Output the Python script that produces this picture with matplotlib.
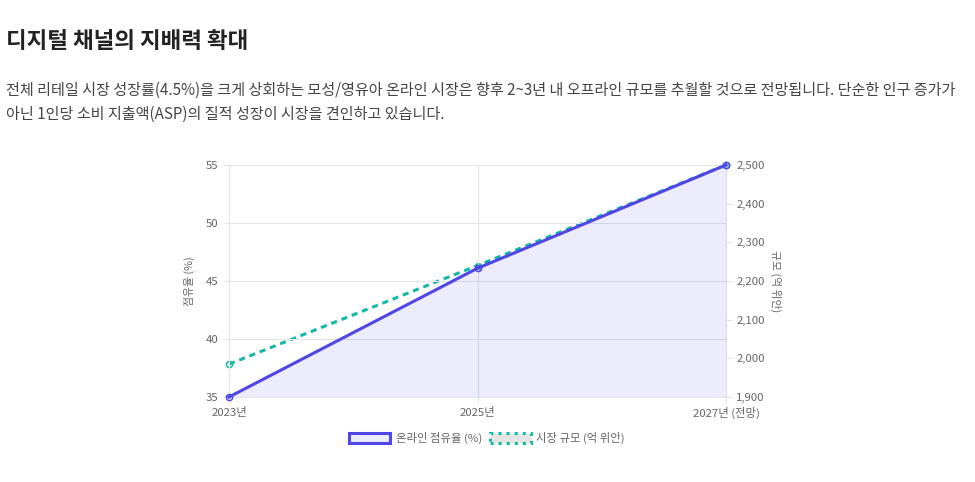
import matplotlib.pyplot as plt
from matplotlib.patches import Patch
from matplotlib.ticker import FuncFormatter, MultipleLocator

plt.rcParams['font.family'] = ['Noto Sans CJK KR', 'DejaVu Sans']

# data
years = ['2023년', '2025년', '2027년 (전망)']
online_share = [35, 46.1, 55]          # %
market_size = [1985, 2240, 2500]       # 억 위안

BLUE = '#4f46e5'
TEAL = '#14b8a6'
GRID = '#e5e5e5'
TICK = '#666666'

fig = plt.figure(figsize=(9.75, 4.82), dpi=100)

fig.text(6 / 975, 1 - 42 / 482, '디지털 채널의 지배력 확대', fontsize=16.2, fontweight='bold',
         color='#222222', va='center', ha='left')
fig.text(6 / 975, 1 - 90 / 482,
         '전체 리테일 시장 성장률(4.5%)을 크게 상회하는 모성/영유아 온라인 시장은 향후 2~3년 내 오프라인 규모를 추월할 것으로 전망됩니다. 단순한 인구 증가가',
         fontsize=10.9, color='#444444', va='center', ha='left')
fig.text(6 / 975, 1 - 114 / 482,
         '아닌 1인당 소비 지출액(ASP)의 질적 성장이 시장을 견인하고 있습니다.',
         fontsize=10.9, color='#444444', va='center', ha='left')

# plot area: x 229..726, y 165..397
ax = fig.add_axes([229 / 975, 1 - 397 / 482, (726 - 229) / 975, (397 - 165) / 482])
ax2 = ax.twinx()

x = list(range(len(years)))

# online share (left axis)
ax.fill_between(x, online_share, 35, color=BLUE, alpha=0.1, lw=0)
ax.plot(x, online_share, color=BLUE, lw=2.2, marker='o', ms=4.5,
        mfc=(0.31, 0.27, 0.9, 0.15), mec=BLUE, mew=1, zorder=5, clip_on=False)
ax.set_ylim(35, 55)
ax.set_xlim(0, 2)
ax.yaxis.set_major_locator(MultipleLocator(5))
ax.set_xticks(x)
ax.set_xticklabels(years)
ax.set_ylabel('점유율 (%)', fontsize=7.8, color=TICK, labelpad=8)
ax.grid(True, color=GRID, lw=0.8)
ax.set_axisbelow(True)

# market size (right axis)
ax2.plot(x, market_size, color=TEAL, lw=2.2, ls=(0, (2, 1.6)), marker='o', ms=4.5,
         mfc=(0.08, 0.72, 0.65, 0.15), mec=TEAL, mew=1, zorder=4, clip_on=False)
ax2.set_ylim(1900, 2500)
ax2.yaxis.set_major_locator(MultipleLocator(100))
ax2.yaxis.set_major_formatter(FuncFormatter(lambda v, p: f'{int(v):,}'))
ax2.set_ylabel('규모 (억 위안)', fontsize=7.8, color=TICK, rotation=-90, labelpad=12)

ax.set_zorder(ax2.get_zorder() + 1)
ax.patch.set_visible(False)

for a in (ax, ax2):
    for s in a.spines.values():
        s.set_visible(False)
    a.tick_params(colors=TICK, labelsize=8.2, length=4, width=0.8)
    a.tick_params(axis='both', color=GRID)
ax.spines['left'].set_visible(True)
ax.spines['left'].set_color(GRID)
ax.spines['bottom'].set_visible(True)
ax.spines['bottom'].set_color(GRID)
ax2.spines['right'].set_visible(True)
ax2.spines['right'].set_color(GRID)
ax.tick_params(axis='x', pad=3)

handles = [
    Patch(facecolor=(0.31, 0.27, 0.9, 0.1), edgecolor=BLUE, lw=2.2, label='온라인 점유율 (%)'),
    Patch(facecolor='#e5e5e5', edgecolor=TEAL, lw=2.2, ls=':', label='시장 규모 (억 위안)'),
]
fig.legend(handles=handles, loc='center', bbox_to_anchor=(487 / 975, 1 - 438 / 482), ncol=2,
           frameon=False, fontsize=8.2, handlelength=3.6, handleheight=0.9,
           handletextpad=0.5, columnspacing=0.7, labelcolor=TICK)

fig.savefig('out.png', dpi=100)
